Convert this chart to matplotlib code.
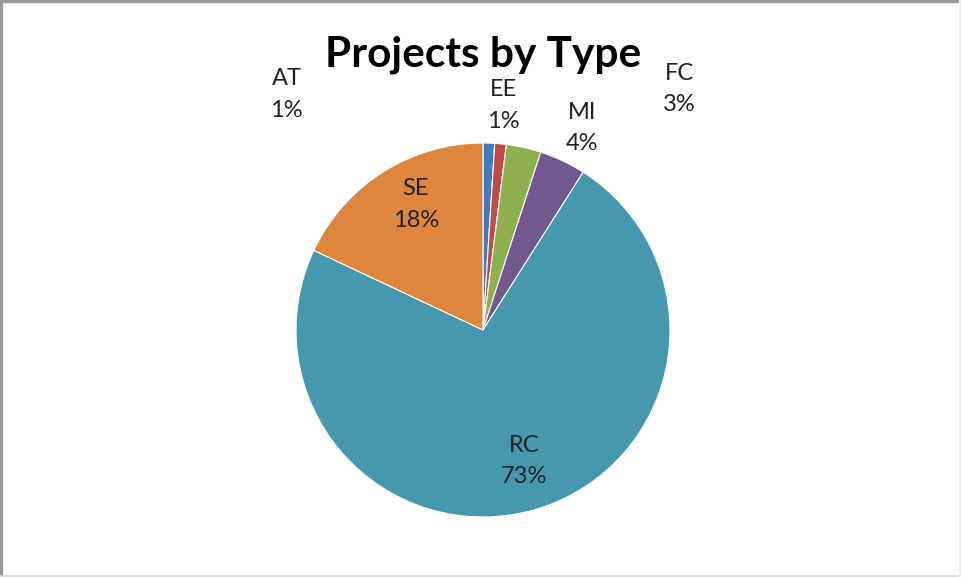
import matplotlib.pyplot as plt
from matplotlib.lines import Line2D

# project counts by type, as share of total (%)
types = ["AT", "EE", "FC", "MI", "RC", "SE"]
shares = [1, 1, 3, 4, 73, 18]
colors = ["#3D7CC0", "#BE4B48", "#8FB04F", "#71588F", "#4598AE", "#DE853E"]

# label spots in pie-radius units, Excel style best-fit
label_xy = {
    "AT": (-1.05, 1.26),
    "EE": (0.11, 1.20),
    "MI": (0.53, 1.08),
    "FC": (1.05, 1.29),
    "RC": (0.22, -0.70),
    "SE": (-0.36, 0.67),
}

plt.rcParams["font.family"] = ["Lato", "DejaVu Sans"]

fig = plt.figure(figsize=(9.61, 5.77), dpi=100)

# frame: darker on top/left, faint on bottom/right
tf = fig.transFigure
fig.lines.append(Line2D([0, 1], [0.998, 0.998], transform=tf, color="#999999", lw=2.5))
fig.lines.append(Line2D([0.001, 0.001], [0, 1], transform=tf, color="#999999", lw=3))
fig.lines.append(Line2D([0, 1], [0.002, 0.002], transform=tf, color="#dddddd", lw=2))
fig.lines.append(Line2D([0.999, 0.999], [0, 1], transform=tf, color="#eeeeee", lw=1.5))

W, H = 961, 577
cx, cy, r = 483, 330, 187
ax = fig.add_axes([(cx - r) / W, (H - cy - r) / H, 2 * r / W, 2 * r / H])

wedges, _ = ax.pie(shares, colors=colors, startangle=90, counterclock=False,
                   radius=1, wedgeprops=dict(edgecolor="white", linewidth=0.8))
ax.set_xlim(-1, 1)
ax.set_ylim(-1, 1)
ax.set_aspect("equal")
ax.axis("off")

for t, s in zip(types, shares):
    x, y = label_xy[t]
    ax.text(x, y, f"{t}\n{s}%", ha="center", va="center", fontsize=17,
            color="#222222", linespacing=1.62, clip_on=False)

fig.text(cx / W, 1 - 55 / H, "Projects by Type", ha="center", va="center",
         fontsize=30.5, fontweight="bold", color="black")

fig.savefig("out.png", dpi=100)
